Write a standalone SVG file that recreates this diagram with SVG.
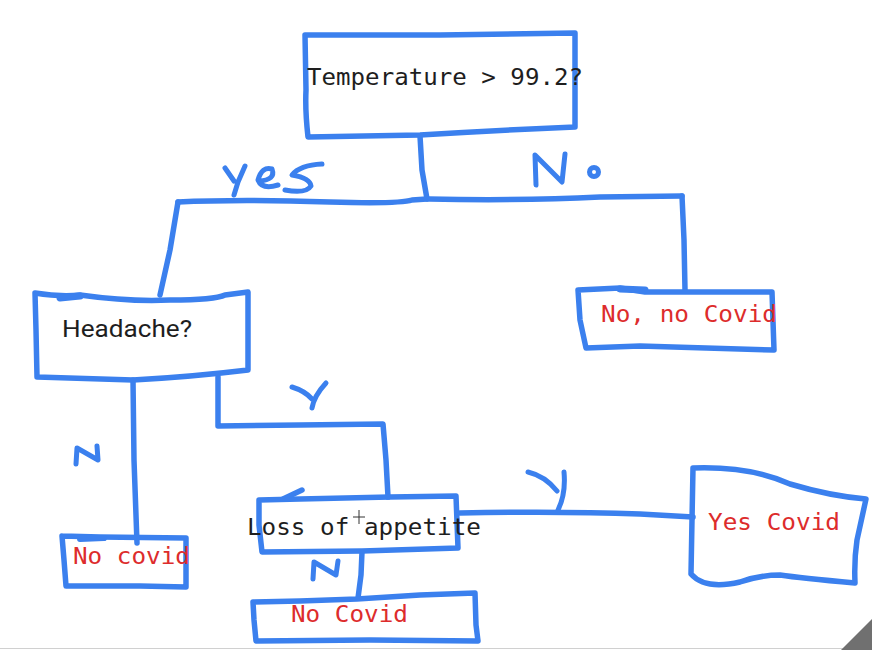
<svg xmlns="http://www.w3.org/2000/svg" width="872" height="650" viewBox="0 0 872 650">
<style>
.ln{fill:none;stroke:#3b80ee;stroke-width:5.5;stroke-linecap:round;stroke-linejoin:round}
.lb{fill:none;stroke:#3b80ee;stroke-width:5;stroke-linecap:round;stroke-linejoin:round}
.mono{font-family:"DejaVu Sans Mono","Liberation Mono",monospace;font-size:23px}
.sans{font-family:Roboto,"Liberation Sans",sans-serif;font-size:23px}
.blk{fill:#1e1e1e}
.red{fill:#dd2c2c}
</style>
<rect width="872" height="650" fill="#ffffff"/>
<g id="connectors">
  <path class="ln" d="M420,136 L422,170 L427,199"/>
  <path class="ln" d="M178,202 Q240,199 330,202 Q400,204 412,200 L427,199"/>
  <path class="ln" d="M429,199 Q520,201 600,197 L682,196"/>
  <path class="ln" d="M178,202 L170,250 L160,295"/>
  <path class="ln" d="M682,196 L684,240 L685,290"/>
  <path class="ln" d="M133,380 L134,460 L137,543"/>
  <path class="ln" d="M218,377 L218,426 L300,425 L383,424 L386,460 L388,497"/>
  <path class="ln" d="M362,552 L361,575 L358,598"/>
  <path class="ln" d="M460,513 Q560,511 640,514 L693,517"/>
</g>
<g id="edge-labels">
  <path class="lb" d="M225,168 L234,181 M245,166 L238,182 L234,195"/>
  <path class="lb" d="M259,181 Q276,180 272,169 Q262,166 258,180 Q262,190 278,185"/>
  <path class="lb" d="M322,164 Q300,165 292,175 Q310,178 311,186 Q306,194 285,190"/>
  <path class="lb" d="M536,185 L535,155 L562,182 L565,154"/>
  <circle class="lb" cx="594" cy="172" r="4.5"/>
  <path class="lb" d="M76,464 L77,448 L98,460 L97,446"/>
  <path class="lb" d="M292,387 Q305,391 312,399 M326,383 Q314,396 312,408"/>
  <path class="lb" d="M313,579 L314,562 L336,575 L338,561"/>
  <path class="lb" d="M528,472 Q545,476 557,491 M564,472 Q566,494 558,510"/>
</g>
<g id="n-temperature">
  <path class="ln" d="M305,35 L440,35 L575,33 L575,127 Q500,130 420,135 L308,137 Q305,110 306,90 L305,35"/>
  <text class="mono blk" x="307" y="85" textLength="276" lengthAdjust="spacingAndGlyphs">Temperature &gt; 99.2?</text>
</g>
<g id="n-headache">
  <path class="ln" d="M35,293 Q60,297 80,295 Q130,302 170,300 Q215,300 225,295 L248,292 L248,370 Q190,377 133,380 L37,377 L36,330 L35,293"/>
  <path class="ln" d="M60,298 L80,296" style="stroke-width:7"/>
  <text class="sans blk" x="62" y="337" textLength="130" lengthAdjust="spacingAndGlyphs">Headache?</text>
</g>
<g id="n-no-no-covid">
  <path class="ln" d="M578,290 L620,288 L645,292 L772,292 L774,350 L640,346 L586,348 L580,320 L578,290"/>
  <path class="ln" d="M620,289 L645,290" style="stroke-width:7"/>
  <text class="mono red" x="601" y="322" textLength="176" lengthAdjust="spacingAndGlyphs">No, no Covid</text>
</g>
<g id="n-no-covid-left">
  <path class="ln" d="M62,536 L100,537 L186,538 L186,587 L140,586 L66,586 L64,560 L62,536"/>
  <path class="ln" d="M80,539 L104,538" style="stroke-width:6"/>
  <text class="mono red" x="73" y="564" textLength="117" lengthAdjust="spacingAndGlyphs">No covid</text>
</g>
<g id="n-loss">
  <path class="ln" d="M259,500 L300,499 L390,497 L456,496 L458,548 L362,551 L262,552 L259,525 L259,500"/>
  <path class="ln" d="M283,499 L302,490"/>
  <text class="mono blk" x="247" y="535" textLength="234" lengthAdjust="spacingAndGlyphs">Loss of appetite</text>
  <path d="M353,517 L365,517 M359,510 L359,524" stroke="#333" stroke-width="1" fill="none"/>
</g>
<g id="n-no-covid-bottom">
  <path class="ln" d="M253,602 L300,601 L357,599 L420,595 L475,593 L476,625 L478,641 L370,640 L256,641 L254,620 L253,602"/>
  <text class="mono red" x="291" y="622" textLength="117" lengthAdjust="spacingAndGlyphs">No Covid</text>
</g>
<g id="n-yes-covid">
  <path class="ln" d="M693,468 Q750,466 790,484 Q830,496 866,499 L857,540 Q854,560 855,583 Q800,578 780,575 Q760,575 740,582 Q705,590 691,574 L692,520 L693,468"/>
  <text class="mono red" x="708" y="530" textLength="132" lengthAdjust="spacingAndGlyphs">Yes Covid</text>
</g>
<line x1="0" y1="648.5" x2="872" y2="648.5" stroke="#d0d0d0" stroke-width="1"/>
<polygon points="841,650 872,619 872,650" fill="#707070"/>
</svg>
